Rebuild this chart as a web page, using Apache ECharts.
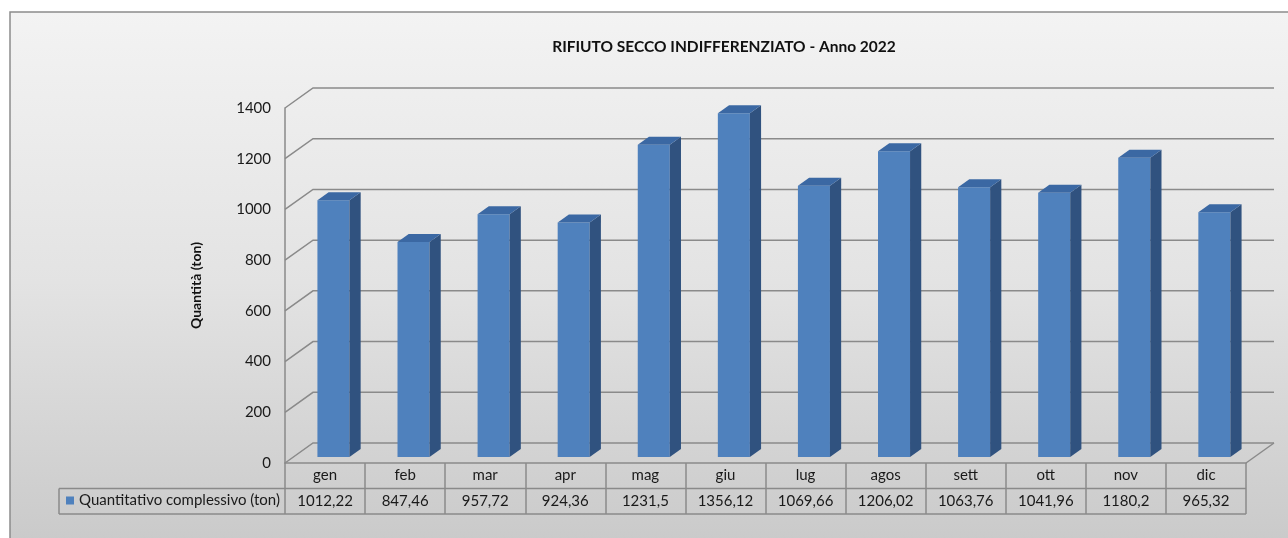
<!DOCTYPE html>
<html>
<head>
<meta charset="utf-8">
<title>RIFIUTO SECCO INDIFFERENZIATO - Anno 2022</title>
<script src="https://cdn.jsdelivr.net/npm/echarts@6/dist/echarts.min.js"></script>
<style>
  html, body { margin: 0; padding: 0; background: #ffffff; }
  #chart { width: 1288px; height: 538px; }
</style>
</head>
<body>
<div id="chart"></div>
<script>
// Monthly totals of residual (unsorted) waste, tonnes
const months = ['gen', 'feb', 'mar', 'apr', 'mag', 'giu', 'lug', 'agos', 'sett', 'ott', 'nov', 'dic'];
const quantities = [1012.22, 847.46, 957.72, 924.36, 1231.5, 1356.12, 1069.66, 1206.02, 1063.76, 1041.96, 1180.2, 965.32];
const yTicks = [0, 200, 400, 600, 800, 1000, 1200, 1400];
const seriesName = 'Quantitativo complessivo (ton)';

// 3D depth of the plot box (pixels from the front plane to the back wall)
const DX = 28, DY = -20;
const FONT = 'Lato, "Open Sans", sans-serif';
const GRID_COLOR = '#8a8a8a';
const TEXT_COLOR = '#1a1a1a';
const TABLE_FONT_SIZE = 15;

const fmt = v => String(v).replace('.', ',');

// Back wall gridlines, their diagonals on the side wall, and the floor outline
function renderWall(params, api) {
  const cs = params.coordSys;
  const v = api.value(0);
  const y = api.coord([0, v])[1];
  const children = [{
    type: 'polyline',
    shape: { points: [[cs.x, y], [cs.x + DX, y + DY], [cs.x + cs.width + DX, y + DY]] },
    style: { stroke: GRID_COLOR, lineWidth: 1.5, fill: null }
  }];
  if (v === 0) {
    children.push({
      type: 'line',
      shape: { x1: cs.x + cs.width, y1: y, x2: cs.x + cs.width + DX, y2: y + DY },
      style: { stroke: GRID_COLOR, lineWidth: 1.5 }
    });
  }
  return { type: 'group', children };
}

// One 3D column: front face, right side and top
function renderBar(params, api) {
  const i = api.value(0), v = api.value(1);
  const base = api.coord([i, 0]);
  const top = api.coord([i, v]);
  const band = api.size([1, 0])[0];
  const w = band * 0.4;
  const fx = base[0] + DX * 0.3 - w / 2;
  const by = base[1] + DY * 0.3;
  const ty = top[1] + DY * 0.3;
  const dx = DX * 0.4, dy = DY * 0.4;
  return {
    type: 'group',
    children: [
      { type: 'rect', shape: { x: fx, y: ty, width: w, height: by - ty },
        style: { fill: '#4f81bd' } },
      { type: 'polygon', shape: { points: [[fx + w, ty], [fx + w + dx, ty + dy], [fx + w + dx, by + dy], [fx + w, by]] },
        style: { fill: '#30527f' } },
      { type: 'polygon', shape: { points: [[fx, ty], [fx + dx, ty + dy], [fx + w + dx, ty + dy], [fx + w, ty]] },
        style: { fill: '#3b68a3' } }
    ]
  };
}

// Data table under the plot: value row text plus its horizontal rules and legend cell
function renderTable(params, api) {
  const cs = params.coordSys;
  const i = api.value(0), v = api.value(1);
  const x = api.coord([i, 0])[0];
  const y0 = cs.y + cs.height;
  const rowH = 25.5;
  const children = [{
    type: 'text',
    style: {
      text: fmt(v), x: x, y: y0 + rowH * 1.5,
      align: 'center', verticalAlign: 'middle',
      font: TABLE_FONT_SIZE + 'px ' + FONT, fill: TEXT_COLOR
    }
  }];
  if (params.dataIndex === 0) {
    const legendLeft = cs.x - 226;
    const right = cs.x + cs.width;
    const st = { stroke: GRID_COLOR, lineWidth: 1.5 };
    children.push(
      { type: 'line', shape: { x1: legendLeft, y1: y0 + rowH, x2: right, y2: y0 + rowH }, style: st },
      { type: 'line', shape: { x1: legendLeft, y1: y0 + rowH * 2, x2: right, y2: y0 + rowH * 2 }, style: st },
      { type: 'line', shape: { x1: legendLeft, y1: y0 + rowH, x2: legendLeft, y2: y0 + rowH * 2 }, style: st }
    );
  }
  return { type: 'group', children };
}

const chart = echarts.init(document.getElementById('chart'), null, { renderer: 'canvas' });

chart.setOption({
  animation: false,
  textStyle: { fontFamily: FONT },
  graphic: [{
    type: 'rect',
    z: -10,
    silent: true,
    shape: { x: 10, y: 12, width: 1300, height: 540 },
    style: {
      fill: new echarts.graphic.LinearGradient(0, 0, 0, 1, [
        { offset: 0, color: '#f3f3f3' },
        { offset: 0.5, color: '#e3e3e3' },
        { offset: 1, color: '#c9c9c9' }
      ]),
      stroke: '#8c8c8c',
      lineWidth: 1.5
    }
  }],
  title: {
    text: 'RIFIUTO SECCO INDIFFERENZIATO - Anno 2022',
    left: 719,
    top: 34,
    textAlign: 'center',
    textStyle: { fontFamily: FONT, fontSize: 15.5, fontWeight: 'bold', color: '#111' }
  },
  legend: {
    data: [seriesName],
    left: 66,
    top: 493,
    padding: 0,
    icon: 'rect',
    itemWidth: 8,
    itemHeight: 8,
    selectedMode: false,
    textStyle: { fontFamily: FONT, fontSize: TABLE_FONT_SIZE, color: TEXT_COLOR }
  },
  grid: { left: 285, right: 42, top: 108, bottom: 75, containLabel: false },
  xAxis: {
    type: 'category',
    data: months,
    boundaryGap: true,
    axisLine: { show: true, lineStyle: { color: GRID_COLOR, width: 1.5 } },
    axisTick: { show: true, interval: 0, length: 51, lineStyle: { color: GRID_COLOR, width: 1.5 } },
    axisLabel: { interval: 0, margin: 5, fontSize: TABLE_FONT_SIZE, color: TEXT_COLOR, fontFamily: FONT },
    splitLine: { show: false }
  },
  yAxis: {
    type: 'value',
    min: 0,
    max: 1400,
    interval: 200,
    name: 'Quantità (ton)',
    nameLocation: 'middle',
    nameGap: 82,
    nameRotate: 90,
    nameTextStyle: { fontFamily: FONT, fontSize: 14, fontWeight: 'bold', color: '#111' },
    axisLine: { show: true, lineStyle: { color: GRID_COLOR, width: 1.5 } },
    axisTick: { show: false },
    axisLabel: { margin: 14, fontSize: 15, color: TEXT_COLOR, fontFamily: FONT,
      formatter: v => (yTicks.indexOf(v) >= 0 ? String(v) : '') },
    splitLine: { show: false }
  },
  series: [
    {
      type: 'custom',
      name: 'wall',
      renderItem: renderWall,
      data: yTicks.map(v => [v]),
      encode: { y: 0 },
      clip: false,
      silent: true,
      z: 1
    },
    {
      type: 'custom',
      name: seriesName,
      renderItem: renderBar,
      data: quantities.map((v, i) => [i, v]),
      encode: { x: 0, y: 1 },
      itemStyle: { color: '#4f81bd' },
      clip: false,
      z: 3
    },
    {
      type: 'custom',
      name: 'table',
      renderItem: renderTable,
      data: quantities.map((v, i) => [i, v]),
      encode: { x: 0, y: 1 },
      clip: false,
      silent: true,
      z: 2
    }
  ]
});
</script>
</body>
</html>
